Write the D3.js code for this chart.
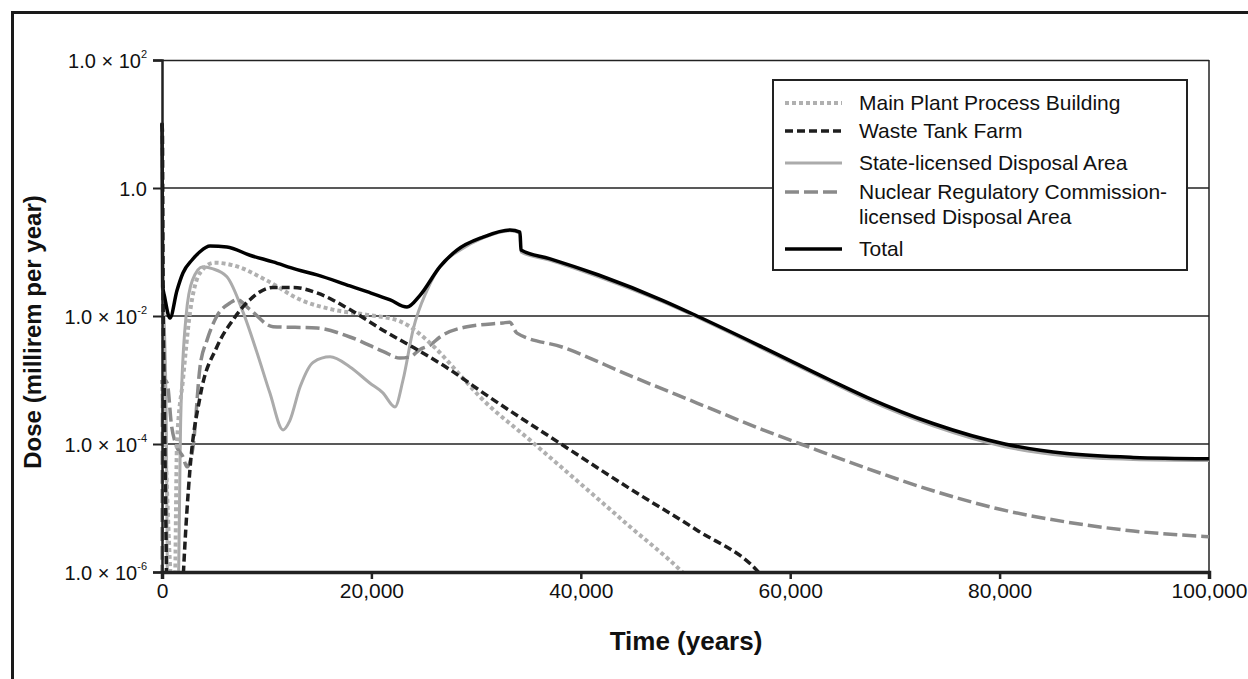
<!DOCTYPE html>
<html>
<head>
<meta charset="utf-8">
<script src="https://cdn.jsdelivr.net/npm/d3@7"></script>
<style>
  html, body { margin: 0; padding: 0; background: #fff; }
  svg { display: block; font-family: "Liberation Sans", Arial, sans-serif; }
</style>
</head>
<body>
<svg id="chart" width="1248" height="679"></svg>
<script>
// ---- Data (year, dose in millirem per year) ----
const xTicks = [0, 20000, 40000, 60000, 80000, 100000];
const yTicks = [1e2, 1, 1e-2, 1e-4, 1e-6];
const yTickLabels = [["1.0 × 10", "2"], ["1.0", ""], ["1.0 × 10", "-2"], ["1.0 × 10", "-4"], ["1.0 × 10", "-6"]];

const mainPlant = [
  [0, 0.001], [300, 0.0001], [800, 1e-6], [1000, 3e-7], [1200, 3e-7], [1430, 0.0001],
  [2000, 0.001], [2670, 0.0112], [3630, 0.047], [5000, 0.068], [6800, 0.062],
  [10000, 0.036], [13200, 0.018], [16300, 0.0126], [19500, 0.0105], [22700, 0.0083],
  [25900, 0.0034], [28460, 0.0012], [30400, 0.00054], [35150, 0.000115],
  [39900, 0.0000245], [44700, 5.1e-6], [49500, 1.07e-6], [52000, 4e-7]
];
const wasteTankFarm = [
  [0, 10], [40, 8], [100, 0.03], [200, 0.001], [350, 1e-5], [500, 3e-7], [1900, 3e-7],
  [2050, 1e-6], [2670, 0.00004], [3630, 0.00054], [5250, 0.0033], [6780, 0.0087],
  [8400, 0.018], [10600, 0.028], [12500, 0.028], [14800, 0.023], [17950, 0.0126],
  [21100, 0.006], [24350, 0.003], [27500, 0.00145], [30400, 0.000676], [38300, 0.0000955],
  [44700, 0.00002], [51100, 4.5e-6], [56800, 1.07e-6], [58500, 5e-7]
];
const stateLicensed = [
  [0, 0.03], [100, 0.02], [400, 0.0003], [550, 3e-7], [1500, 3e-7], [1800, 0.0003],
  [2300, 0.01], [2900, 0.036], [3900, 0.059], [4800, 0.055], [6200, 0.041],
  [7770, 0.0112], [9100, 0.0026], [10300, 0.00063], [11560, 0.000166], [12200, 0.00023],
  [13200, 0.00079], [14450, 0.0019], [16050, 0.0023], [17950, 0.0016], [19870, 0.00089],
  [21100, 0.00063], [22250, 0.00038], [23020, 0.001], [24000, 0.0063], [25300, 0.025],
  [26840, 0.068], [28170, 0.1], [30660, 0.166], [33240, 0.215], [34190, 0.198],
  [34290, 0.1], [37000, 0.075], [41700, 0.041], [47850, 0.0166], [51100, 0.0096],
  [57400, 0.00307], [63800, 0.00094], [67330, 0.000497], [73640, 0.000192],
  [80500, 0.0000907], [86430, 0.0000649], [92770, 0.0000574], [100000, 0.0000554]
];
const nrcLicensed = [
  [0, 1e-7], [60, 0.0006], [250, 0.001], [500, 0.00089], [900, 0.0002], [1300, 0.0001],
  [2000, 0.000063], [2390, 0.000044], [2960, 0.000089], [3630, 0.0016], [4300, 0.0042],
  [5250, 0.01], [6500, 0.016], [7160, 0.018], [8400, 0.0126], [10600, 0.0068],
  [14800, 0.0065], [17950, 0.0047], [21100, 0.0028], [22730, 0.0022], [23700, 0.0023],
  [24640, 0.003], [25600, 0.0035], [26550, 0.0047], [29130, 0.0068], [32570, 0.0078],
  [33200, 0.008], [33900, 0.0054], [38300, 0.00324], [44700, 0.00117], [51100, 0.000437],
  [57400, 0.000166], [61000, 0.0001], [67300, 0.0000417], [73640, 0.0000186],
  [80040, 9.55e-6], [86400, 6.03e-6], [92770, 4.37e-6], [100000, 3.55e-6]
];
const total = [
  [0, 10.5], [60, 0.03], [250, 0.02], [760, 0.0093], [1430, 0.025], [2000, 0.047],
  [2865, 0.075], [3600, 0.1], [4585, 0.124], [6200, 0.12], [8400, 0.089], [10600, 0.07],
  [12900, 0.053], [14800, 0.044], [17950, 0.0295], [19580, 0.024], [21800, 0.0178],
  [23400, 0.0138], [24640, 0.021], [26550, 0.059], [28170, 0.107], [30660, 0.171],
  [33240, 0.221], [34190, 0.204], [34290, 0.107], [37000, 0.079], [41700, 0.0437],
  [47850, 0.0174], [51100, 0.01], [57400, 0.00324], [63800, 0.001], [67330, 0.000537],
  [73640, 0.000209], [80500, 0.0001], [86430, 0.0000708], [92770, 0.0000617],
  [100000, 0.0000589]
];

const seriesNames = ["Main Plant Process Building", "Waste Tank Farm", "State-licensed Disposal Area",
  "Nuclear Regulatory Commission-", "Total"];

// ---- Layout ----
const svg = d3.select("#chart");
const m = { left: 162, right: 1209, top: 60, bottom: 572 };

const x = d3.scaleLinear().domain([0, 100000]).range([m.left, m.right]);
const y = d3.scaleLog().domain([1e-6, 1e2]).range([m.bottom, m.top]);

// outer border
svg.append("rect").attr("x", 12.5).attr("y", 12.5).attr("width", 1400).attr("height", 900)
  .attr("fill", "none").attr("stroke", "#1a1a1a").attr("stroke-width", 3);

// frame top and right
svg.append("line").attr("x1", m.left).attr("x2", m.right).attr("y1", m.top + 0.5).attr("y2", m.top + 0.5)
  .attr("stroke", "#222").attr("stroke-width", 1.5);
svg.append("line").attr("x1", m.right).attr("x2", m.right).attr("y1", m.top).attr("y2", m.bottom)
  .attr("stroke", "#222").attr("stroke-width", 1.5);

// gridlines
svg.append("g").selectAll("line").data(yTicks.filter(d => d < 1e2 && d > 1e-6)).join("line")
  .attr("x1", m.left).attr("x2", m.right).attr("y1", d => y(d)).attr("y2", d => y(d))
  .attr("stroke", "#222").attr("stroke-width", 1.5);

// clip
svg.append("defs").append("clipPath").attr("id", "plotClip").append("rect")
  .attr("x", m.left - 2).attr("y", m.top - 2).attr("width", m.right - m.left + 4).attr("height", m.bottom - m.top + 2);

const line = d3.line().x(d => x(d[0])).y(d => y(d[1])).curve(d3.curveMonotoneX);

const styles = [
  { data: stateLicensed, color: "#ababab", width: 3, dash: null },
  { data: nrcLicensed, color: "#8a8a8a", width: 3.5, dash: "14,5" },
  { data: mainPlant, color: "#b0b0b0", width: 4, dash: "4,3" },
  { data: wasteTankFarm, color: "#1e1e1e", width: 3.5, dash: "8,4" },
  { data: total, color: "#000", width: 3.5, dash: null }
];
const plot = svg.append("g").attr("clip-path", "url(#plotClip)");
styles.forEach(s => {
  plot.append("path").datum(s.data).attr("d", line).attr("fill", "none")
    .attr("stroke", s.color).attr("stroke-width", s.width)
    .attr("stroke-dasharray", s.dash).attr("stroke-linejoin", "round");
});

// axes
const yAxis = svg.append("g").attr("transform", `translate(${m.left},0)`)
  .call(d3.axisLeft(y).tickValues(yTicks).tickSize(9).tickPadding(6).tickFormat(() => ""));
yAxis.select(".domain").attr("stroke", "#222").attr("stroke-width", 2.5);
yAxis.selectAll(".tick line").attr("stroke", "#222").attr("stroke-width", 2);
yAxis.selectAll(".tick").each(function (d, i) {
  const t = d3.select(this).select("text").text("")
    .attr("font-size", 20).attr("fill", "#111").attr("x", -15).attr("dy", "0.35em");
  const lab = yTickLabels[i];
  t.append("tspan").text(lab[0]);
  if (lab[1]) t.append("tspan").text(lab[1]).attr("font-size", 11).attr("dy", "-0.85em");
});

const xAxis = svg.append("g").attr("transform", `translate(0,${m.bottom})`)
  .call(d3.axisBottom(x).tickValues(xTicks).tickSize(7).tickPadding(4).tickFormat(d3.format(",")));
xAxis.select(".domain").attr("stroke", "#222").attr("stroke-width", 3.5);
xAxis.selectAll(".tick line").attr("stroke", "#222").attr("stroke-width", 2.5);
xAxis.selectAll(".tick text").attr("font-size", 21).attr("fill", "#111");

// axis titles
svg.append("text").attr("x", 686).attr("y", 650).attr("text-anchor", "middle")
  .attr("font-size", 26).attr("font-weight", "bold").attr("fill", "#111").text("Time (years)");
svg.append("text").attr("transform", "translate(41,332) rotate(-90)").attr("text-anchor", "middle")
  .attr("font-size", 24).attr("font-weight", "bold").attr("fill", "#111").text("Dose (millirem per year)");

// legend
const lg = svg.append("g");
lg.append("rect").attr("x", 773).attr("y", 80).attr("width", 414).attr("height", 190)
  .attr("fill", "#fff").attr("stroke", "#222").attr("stroke-width", 2);
const legendRows = [
  { s: styles[2], y: 103, lines: [seriesNames[0]] },
  { s: styles[3], y: 131, lines: [seriesNames[1]] },
  { s: styles[0], y: 163, lines: [seriesNames[2]] },
  { s: styles[1], y: 192, lines: [seriesNames[3], "licensed Disposal Area"] },
  { s: styles[4], y: 249, lines: [seriesNames[4]] }
];
legendRows.forEach(r => {
  lg.append("line").attr("x1", 785).attr("x2", 842).attr("y1", r.y).attr("y2", r.y)
    .attr("stroke", r.s.color).attr("stroke-width", r.s.width).attr("stroke-dasharray", r.s.dash);
  r.lines.forEach((t, k) => {
    lg.append("text").attr("x", 859).attr("y", r.y + k * 25).attr("dy", "0.35em")
      .attr("font-size", 21).attr("fill", "#111").text(t);
  });
});
</script>
</body>
</html>
